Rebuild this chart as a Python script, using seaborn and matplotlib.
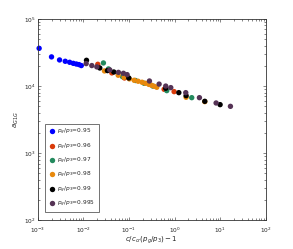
import numpy as np
import pandas as pd
import seaborn as sns
import matplotlib.pyplot as plt

# series (x = c/c_cr(p_g/p_3)-1, y = a_G1G)
labels = ["0.95", "0.96", "0.97", "0.98", "0.99", "0.995"]
colors = ["#0000ff", "#d93a0a", "#238a5e", "#e8890c", "#000000", "#553355"]

x_095 = [0.00107, 0.002, 0.003, 0.004, 0.005, 0.006, 0.007, 0.008, 0.009]
y_095 = [36500, 27200, 24500, 23400, 22600, 21800, 21300, 20900, 20200]

x_096 = [0.0207, 0.042, 0.0796, 0.59, 0.977]
y_096 = [21100, 15700, 13200, 8950, 8260]

x_097 = [0.0275, 0.0355, 0.072, 0.139, 0.215, 0.333, 0.674, 2.38]
y_097 = [22100, 18000, 13800, 12100, 11000, 10000, 8550, 6720]

x_098 = [0.029, 0.058, 0.078, 0.102, 0.130, 0.159, 0.194, 0.23, 0.272,
         0.311, 0.356, 0.407, 1.79, 4.6]
y_098 = [16800, 14500, 13500, 12800, 12200, 11800, 11400, 11000, 10600,
         10300, 9930, 9590, 6810, 5860]

x_099 = [0.0117, 0.0229, 0.0337, 0.0465, 0.099, 0.64, 1.24, 1.79, 4.6, 9.97]
y_099 = [24200, 18600, 17000, 16200, 13200, 9270, 7980, 7200, 5930, 5290]

x_0995 = [0.0115, 0.0153, 0.0197, 0.0379, 0.0587, 0.0756, 0.091, 0.281,
          0.458, 0.64, 0.826, 1.76, 3.51, 8.15, 16.8]
y_0995 = [21600, 20200, 19300, 17400, 16000, 15500, 14800, 11900,
          10700, 10000, 9480, 7980, 6720, 5600, 4990]

xs = [x_095, x_096, x_097, x_098, x_099, x_0995]
ys = [y_095, y_096, y_097, y_098, y_099, y_0995]

frames = []
for lab, x, y in zip(labels, xs, ys):
    frames.append(pd.DataFrame({"x": x, "y": y,
                                "ratio": "$p_g/p_3$=" + lab}))
df = pd.concat(frames, ignore_index=True)

sns.set_style("ticks")
plt.rcParams["font.family"] = ["DejaVu Sans"]
plt.rcParams["mathtext.fontset"] = "dejavusans"

fig = plt.figure(figsize=(2.93, 2.49), dpi=100)
ax = fig.add_axes([0.129, 0.115, 0.778, 0.809])

palette = dict(zip(df["ratio"].unique(), colors))
sns.scatterplot(data=df, x="x", y="y", hue="ratio", palette=palette,
                s=15, linewidth=0, ax=ax, clip_on=False)

ax.set_xscale("log")
ax.set_yscale("log")
ax.set_xlim(1e-3, 1e2)
ax.set_ylim(1e2, 1e5)
ax.set_xlabel("$c/c_{cr}(p_g/p_3)-1$", fontsize=5, labelpad=0)
ax.set_ylabel("$a_{G1G}$", fontsize=5, labelpad=2)
ax.tick_params(which="both", direction="in", top=True, right=True,
               labelsize=4.2, width=0.4)
ax.tick_params(axis="x", pad=3.5)
ax.tick_params(axis="y", pad=1.5)
ax.tick_params(which="major", length=2.5)
ax.tick_params(which="minor", length=1.3)
for sp in ax.spines.values():
    sp.set_linewidth(0.6)
    sp.set_color("#333333")

leg = ax.legend(loc="lower left", fontsize=4.2, frameon=True, fancybox=False,
                edgecolor="#333333", borderpad=0.6, labelspacing=0.7,
                handletextpad=0.4, handlelength=1.2, markerscale=1.0,
                borderaxespad=0, bbox_to_anchor=(0.03, 0.04))
leg.get_frame().set_linewidth(0.6)

fig.savefig("out.png", dpi=100)
